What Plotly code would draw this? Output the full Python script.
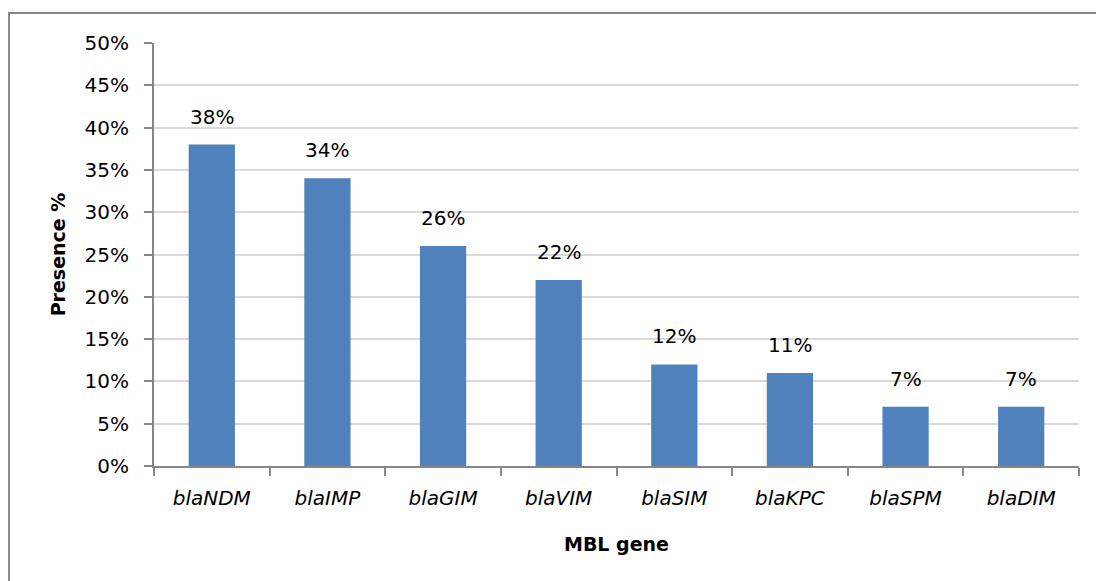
import plotly.graph_objects as go

genes = ["blaNDM", "blaIMP", "blaGIM", "blaVIM", "blaSIM", "blaKPC", "blaSPM", "blaDIM"]
presence = [38, 34, 26, 22, 12, 11, 7, 7]
y_ticks = [0, 5, 10, 15, 20, 25, 30, 35, 40, 45, 50]
y_tick_labels = [f"{v}%" for v in y_ticks]

FONT = "DejaVu Sans"
BAR = "#4F81BD"
AXIS = "#868686"
GRID = "#D9D9D9"

W, H = 1096, 581
L, R, T, B = 154, 17, 43, 115
pw, ph = W - L - R, H - T - B

fig = go.Figure()
fig.add_trace(go.Bar(
    x=genes,
    y=presence,
    width=0.4,
    marker=dict(color=BAR, line=dict(width=0)),
    hoverinfo="skip",
))

# value labels above each bar
for g, v in zip(genes, presence):
    fig.add_annotation(
        x=g, y=v, text=f"{v}%", showarrow=False,
        yanchor="bottom", yshift=14,
        font=dict(family=FONT, size=20, color="#000000"),
    )

# chart frame (runs past the right and bottom edges of the page)
def px_x(p):
    return (p - L) / pw

def px_y(p):
    return (H - B - p) / ph

fig.add_shape(
    type="rect", xref="paper", yref="paper",
    x0=px_x(9), x1=px_x(1110), y0=px_y(595), y1=px_y(13),
    line=dict(color="#898989", width=2), fillcolor="rgba(0,0,0,0)",
    layer="below",
)

fig.update_layout(
    width=W, height=H,
    margin=dict(l=L, r=R, t=T, b=B, pad=0),
    paper_bgcolor="white",
    plot_bgcolor="white",
    showlegend=False,
    font=dict(family=FONT, color="#000000"),
)

fig.update_xaxes(
    type="category",
    tickson="boundaries",
    ticks="outside", ticklen=8, tickwidth=2, tickcolor=AXIS,
    showline=True, linecolor=AXIS, linewidth=2,
    showgrid=False,
    tickfont=dict(family=FONT, size=20, style="italic", color="#000000"),
    ticklabelstandoff=13,
    title=dict(text="<b>MBL gene</b>", font=dict(family=FONT, size=19), standoff=29),
)

fig.update_yaxes(
    range=[0, 50],
    tickvals=y_ticks, ticktext=y_tick_labels,
    ticks="outside", ticklen=8, tickwidth=2, tickcolor=AXIS,
    showline=True, linecolor=AXIS, linewidth=2,
    showgrid=True, gridcolor=GRID, gridwidth=2,
    zeroline=False,
    tickfont=dict(family=FONT, size=20, color="#000000"),
    ticklabelstandoff=11,
    title=dict(text="<b>Presence %</b>", font=dict(family=FONT, size=19), standoff=14),
)

fig.write_html("out.html")
